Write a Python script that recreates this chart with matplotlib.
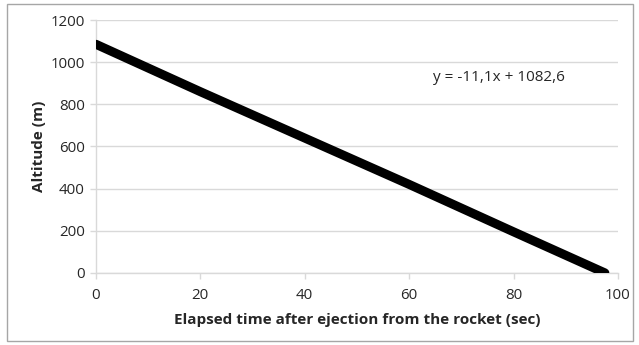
import matplotlib.pyplot as plt
from matplotlib.patches import Rectangle

# readings
time_s = [0, 20, 40, 60, 80, 97.5]
altitude_m = [1085, 860, 640, 420, 195, 0]
x_ticks = [0, 20, 40, 60, 80, 100]
y_ticks = [0, 200, 400, 600, 800, 1000, 1200]
equation = 'y = -11,1x + 1082,6'

plt.rcParams['font.family'] = ['Open Sans', 'DejaVu Sans']
plt.rcParams['font.size'] = 10.8

fig = plt.figure(figsize=(6.39, 3.45), dpi=100)
ax = fig.add_axes([0.150, 0.209, 0.817, 0.733])

grid_col = '#d9d9d9'
ax.plot(time_s, altitude_m, color='black', linewidth=6.5, solid_capstyle='round', zorder=3)

ax.set_xlim(0, 100)
ax.set_ylim(0, 1200)
ax.set_xticks(x_ticks)
ax.set_yticks(y_ticks)
ax.yaxis.grid(True, color=grid_col, linewidth=1)
ax.set_axisbelow(True)

for s in ['top', 'right']:
    ax.spines[s].set_visible(False)
for s in ['left', 'bottom']:
    ax.spines[s].set_color(grid_col)
    ax.spines[s].set_linewidth(1)
ax.tick_params(axis='both', color=grid_col, length=4, width=1, labelcolor='#262626')
ax.tick_params(axis='x', pad=7)
ax.tick_params(axis='y', pad=4)

ax.set_xlabel('Elapsed time after ejection from the rocket (sec)', fontweight='bold', fontsize=11, labelpad=7, color='#262626')
ax.set_ylabel('Altitude (m)', fontweight='bold', fontsize=11, labelpad=3, color='#262626')

ax.text(64.6, 925, equation, fontsize=11, va='center', ha='left', color='#262626')

fig.patches.append(Rectangle((7 / 639, 4 / 345), 626 / 639, 337 / 345, transform=fig.transFigure,
                             fill=False, edgecolor='#a6a6a6', linewidth=1))

plt.savefig('out.png', dpi=100)
